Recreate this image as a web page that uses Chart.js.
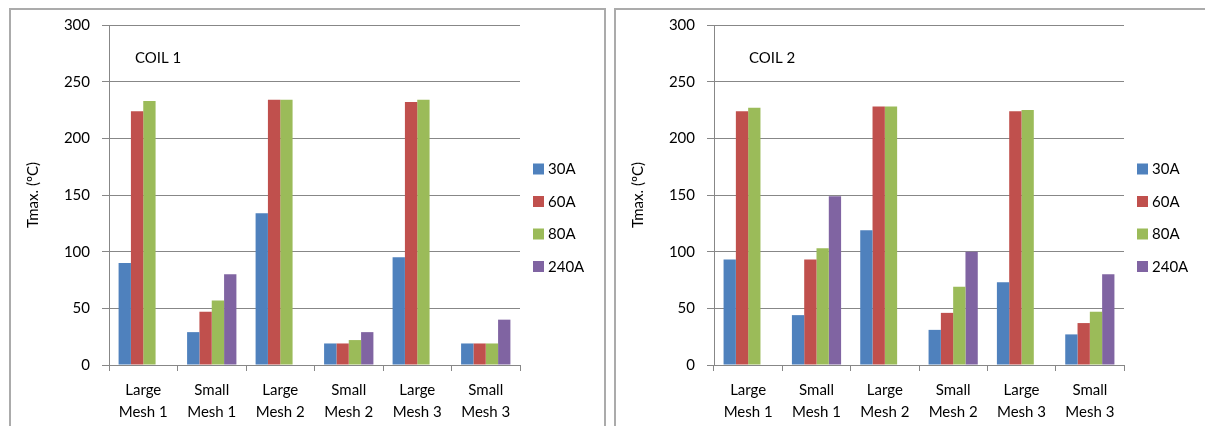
<!DOCTYPE html>
<html>
<head>
<meta charset="utf-8">
<script src="https://cdn.jsdelivr.net/npm/chart.js@4"></script>
<style>
  html, body { margin: 0; padding: 0; background: #fff; width: 1205px; height: 426px; overflow: hidden; }
  .panel { position: absolute; border: 2px solid #ababab; box-sizing: border-box; background: #fff; }
  canvas { position: absolute; }
</style>
</head>
<body>
<div class="panel" style="left:9px; top:8px; width:597px; height:440px;"></div>
<div class="panel" style="left:614px; top:8px; width:620px; height:440px;"></div>
<canvas id="c1" style="left:11px; top:10px; width:593px; height:416px;"></canvas>
<canvas id="c2" style="left:616px; top:10px; width:589px; height:416px;"></canvas>
<script>
const categories = [["Large", "Mesh 1"], ["Small", "Mesh 1"], ["Large", "Mesh 2"], ["Small", "Mesh 2"], ["Large", "Mesh 3"], ["Small", "Mesh 3"]];
const seriesNames = ["30A", "60A", "80A", "240A"];
const seriesColors = ["#4F81BD", "#C0504D", "#9BBB59", "#8064A2"];
const yTicks = [0, 50, 100, 150, 200, 250, 300];

// COIL 1
const coil1_30A  = [90, 29, 134, 19, 95, 19];
const coil1_60A  = [224, 47, 234, 19, 232, 19];
const coil1_80A  = [233, 57, 234, 22, 234, 19];
const coil1_240A = [null, 80, null, 29, null, 40];

// COIL 2
const coil2_30A  = [93, 44, 119, 31, 73, 27];
const coil2_60A  = [224, 93, 228, 46, 224, 37];
const coil2_80A  = [227, 103, 228, 69, 225, 47];
const coil2_240A = [null, 149, null, 100, null, 80];

const FONT = "Lato";
const TXT = "#000";
const GRID = "#878787";

function makeChart(id, title, series, titleDx, padRight) {
  const datasets = series.map((vals, i) => ({
    label: seriesNames[i],
    data: vals,
    backgroundColor: seriesColors[i],
    borderWidth: 0,
    categoryPercentage: 0.72,
    barPercentage: 1.0
  }));
  const overlay = {
    id: 'overlay_' + id,
    afterDraw(chart) {
      const ctx = chart.ctx;
      const a = chart.chartArea;
      ctx.save();
      ctx.font = "15px " + FONT;
      ctx.fillStyle = TXT;
      ctx.textBaseline = "middle";
      ctx.textAlign = "left";
      ctx.fillText(title, a.left + titleDx, a.top + 33);
      chart.data.datasets.forEach((ds, i) => {
        const y = a.top + 144 + i * 32.5;
        const x = a.right + 13;
        ctx.fillStyle = ds.backgroundColor;
        ctx.fillRect(x, y - 5.5, 11, 11);
        ctx.fillStyle = TXT;
        ctx.fillText(ds.label, x + 15, y + 0.5);
      });
      ctx.restore();
    }
  };
  return new Chart(document.getElementById(id), {
    type: 'bar',
    data: { labels: categories, datasets },
    options: {
      responsive: false,
      animation: false,
      devicePixelRatio: 1,
      layout: { padding: { top: 15, right: padRight, left: 0, bottom: 0 } },
      plugins: { legend: { display: false }, tooltip: { enabled: false } },
      scales: {
        x: {
          grid: { display: true, drawOnChartArea: false, drawTicks: true, tickLength: 6, color: GRID, offset: true },
          border: { display: true, color: GRID, width: 1 },
          ticks: { color: TXT, font: { family: FONT, size: 15, lineHeight: 22 / 15 }, padding: 8, maxRotation: 0, autoSkip: false },
          afterFit(scale) { scale.height = 61; scale.paddingLeft = 0; scale.paddingRight = 0; }
        },
        y: {
          min: 0, max: 300,
          afterBuildTicks(scale) { scale.ticks = yTicks.map(v => ({ value: v })); },
          grid: { color: GRID, tickLength: 7, drawTicks: true },
          border: { display: true, color: GRID, width: 1 },
          ticks: { color: TXT, font: { family: FONT, size: 15 }, padding: 12 },
          title: { display: true, text: "Tmax. (ºC)", color: TXT, font: { family: FONT, size: 15 }, padding: { top: 13, bottom: 0 } },
          afterFit(scale) { scale.width = 98; scale.paddingTop = 0; scale.paddingBottom = 0; }
        }
      }
    },
    plugins: [overlay]
  });
}

const c1 = document.getElementById('c1'); c1.width = 593; c1.height = 416;
const c2 = document.getElementById('c2'); c2.width = 589; c2.height = 416;

makeChart('c1', 'COIL 1', [coil1_30A, coil1_60A, coil1_80A, coil1_240A], 26, 84);
makeChart('c2', 'COIL 2', [coil2_30A, coil2_60A, coil2_80A, coil2_240A], 35, 81);
</script>
</body>
</html>
